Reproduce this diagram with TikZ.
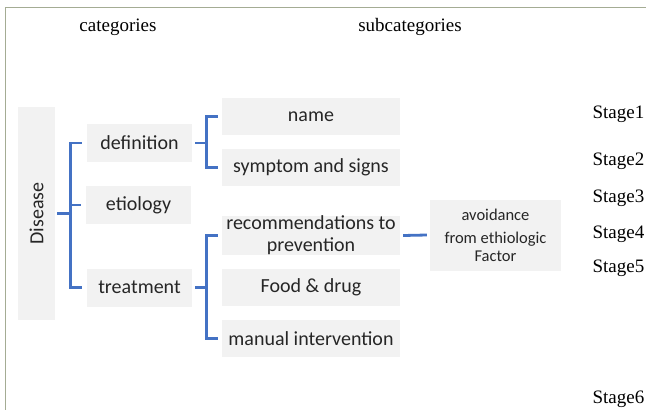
\documentclass[tikz,border=0pt]{standalone}
\usepackage{fontspec}
\setmainfont{Liberation Serif}
\newfontfamily\boxfont{Carlito}
\definecolor{boxgrey}{HTML}{F2F2F2}
\definecolor{brackblue}{HTML}{4472C4}
\definecolor{framegrey}{HTML}{A4AC94}
\definecolor{inkgrey}{HTML}{262626}
\begin{document}
\begin{tikzpicture}[
x=1pt, y=-1pt,
catbox/.style = {fill=boxgrey, minimum width=105pt, minimum height=38pt, inner sep=0pt, align=center, text=inkgrey, font=\boxfont\fontsize{20}{22}\selectfont},
subbox/.style = {catbox, minimum width=178pt, minimum height=37pt},
heading/.style = {font=\fontsize{19}{21}\selectfont, text=black},
stage/.style = {heading, anchor=west},
bracket/.style = {draw=brackblue, line width=2.8pt},
]
  \useasboundingbox (0,0) rectangle (646,410);
  \draw[framegrey, line width=1.5pt] (5.5,410) -- (5.5,7.5) -- (646,7.5);

  \node[heading] (cathead) at (118,27) {categories};
  \node[heading] (subhead) at (410,27) {subcategories};

  \node[catbox, minimum width=213pt, minimum height=37pt, rotate=90] (disease) at (36.5,213.5) {Disease};

  \node[catbox] (definition) at (139.5,143) {definition};
  \node[catbox] (etiology) at (138.5,205) {etiology};
  \node[catbox] (treatment) at (139.5,287.5) {treatment};

  \node[subbox] (name) at (311,116.5) {name};
  \node[subbox] (symptoms) at (311,167.5) {symptom and signs};
  \node[subbox] (prevention) at (311,235.5) {recommendations to\\prevention};
  \node[subbox] (fooddrug) at (311,287) {Food \& drug};
  \node[subbox] (manual) at (311,338.5) {manual intervention};

  \node[subbox, minimum width=131pt, minimum height=71pt, font=\boxfont\fontsize{16.5}{18}\selectfont] (avoidance) at (495.5,235) {avoidance\\[5pt]from ethiologic\\Factor};

  \node[stage] (stage1) at (589,114) {Stage1};
  \node[stage] (stage2) at (589,161) {Stage2};
  \node[stage] (stage3) at (589,198) {Stage3};
  \node[stage] (stage4) at (589,234) {Stage4};
  \node[stage] (stage5) at (589,268) {Stage5};
  \node[stage] (stage6) at (589,399) {Stage6};

  \coordinate (catspine) at (70.5,0);
  \coordinate (subspine) at (206.5,0);

  \draw[bracket] ([xshift=-5]definition.west) -- (definition.west -| catspine) -- (treatment.west -| catspine) -- ([xshift=-5]treatment.west);
  \draw[bracket] ([xshift=-5]etiology.west) -- (etiology.west -| catspine);
  \draw[bracket] ([xshift=2]disease.south) -- (disease.south -| catspine);

  \draw[bracket] ([xshift=-4]name.west) -- (name.west -| subspine) -- (symptoms.west -| subspine) -- ([xshift=-4]symptoms.west);
  \draw[bracket] ([xshift=3]definition.east) -- (definition.east -| subspine);

  \draw[bracket] ([xshift=-4]prevention.west) -- (prevention.west -| subspine) -- (manual.west -| subspine) -- ([xshift=-4]manual.west);
  \draw[bracket] ([xshift=3]treatment.east) -- (treatment.east -| subspine);

  \draw[bracket] ([xshift=3]prevention.east) -- ([xshift=-3]avoidance.west);
\end{tikzpicture}
\end{document}
